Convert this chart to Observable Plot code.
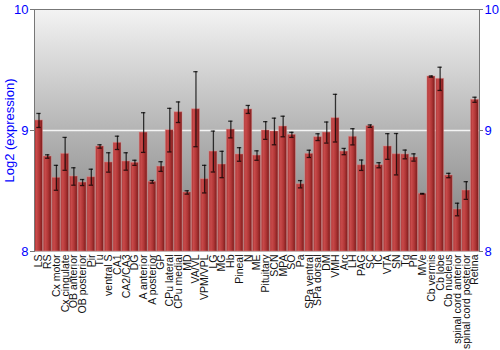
<!DOCTYPE html>
<html>
<head>
<meta charset="utf-8">
<script src="https://cdn.jsdelivr.net/npm/d3@7"></script>
<script src="https://cdn.jsdelivr.net/npm/@observablehq/plot@0.6"></script>
<style>
  html, body { margin: 0; padding: 0; background: #fff; }
  #chart { width: 500px; height: 350px; }
</style>
</head>
<body>
<div id="chart"></div>
<script>
const regions = ["LS","RS","Cx motor","Cx cingulate","OB anterior","OB posterior","Pir","Tu","ventral S","CA1","CA2/CA3","DG","A anterior","A posterior","GP","CPu lateral","CPu medial","MD","VA/VL","VPM/VPL","LG","MG","Hb","Pineal","N","ME","Pituitary","SCN","MPA","SO","Pa","SPa ventral","SPa dorsal","DM","VMH","Arc","LH","PAG","SC","IC","VTA","SN","Tg","Pn","MVe","Cb vermis","Cb lobe","Cb nucleus","spinal cord anterior","spinal cord posterior","Retina"];
const expression = [9.083,8.785,8.609,8.807,8.620,8.570,8.614,8.868,8.736,8.898,8.744,8.733,8.983,8.576,8.702,9.003,9.151,8.488,9.176,8.598,8.826,8.719,9.008,8.802,9.174,8.793,9.000,8.992,9.033,8.964,8.556,8.807,8.945,8.983,9.102,8.826,8.948,8.713,9.036,8.713,8.868,8.804,8.802,8.777,8.477,9.446,9.427,8.628,8.347,8.504,9.254];
const errors = [0.058,0.014,0.103,0.136,0.072,0.025,0.066,0.014,0.080,0.055,0.072,0.021,0.164,0.011,0.040,0.180,0.085,0.014,0.310,0.114,0.169,0.109,0.069,0.056,0.033,0.039,0.073,0.110,0.085,0.021,0.030,0.030,0.028,0.087,0.197,0.026,0.067,0.043,0.010,0.021,0.106,0.171,0.036,0.030,0.003,0.005,0.096,0.018,0.052,0.073,0.021];
const yTicks = [8, 9, 10];
const yLabel = "Log2 (expression)";

const data = regions.map((r, i) => ({region: r, value: expression[i], lo: expression[i] - errors[i], hi: expression[i] + errors[i]}));

const plot = Plot.plot({
  width: 500,
  height: 350,
  marginLeft: 34,
  marginRight: 21,
  marginTop: 9,
  marginBottom: 99,
  style: {fontFamily: "Liberation Sans, Arial, sans-serif", background: "white"},
  x: {type: "band", domain: regions, paddingInner: 0.09, paddingOuter: 0.06},
  y: {domain: [8, 10]},
  marks: [
    Plot.frame({fill: "url(#bgGrad)", stroke: null}),
    Plot.ruleY([9], {stroke: "#f4f4f4", strokeWidth: 1.5}),
    Plot.barY(data, {x: "region", y1: 8, y2: "value", fill: "url(#barGrad)", stroke: "#e89090", strokeOpacity: 0.45, strokeWidth: 1}),
    Plot.ruleX(data, {x: "region", y1: "lo", y2: "hi", stroke: "#000", strokeOpacity: 0.75, strokeWidth: 1.3}),
    Plot.tickY(data, {x: "region", y: "lo", stroke: "#000", strokeOpacity: 0.75, strokeWidth: 1.3, insetLeft: 1.8, insetRight: 1.8}),
    Plot.tickY(data, {x: "region", y: "hi", stroke: "#000", strokeOpacity: 0.75, strokeWidth: 1.3, insetLeft: 1.8, insetRight: 1.8}),
    Plot.frame({anchor: "top", stroke: "#777"}),
    Plot.frame({anchor: "left", stroke: "#777"}),
    Plot.frame({anchor: "right", stroke: "#777"}),
    Plot.axisY({anchor: "left", ticks: yTicks, tickSize: 4, tickPadding: 2, fontSize: 13, color: "#0000ff", stroke: "#777", label: yLabel, labelAnchor: "center", labelArrow: "none", labelOffset: 30, tickFormat: d => String(d)}),
    Plot.axisY({anchor: "right", ticks: yTicks, tickSize: 3, tickPadding: 2, fontSize: 13, color: "#0000ff", stroke: "#777", label: null, tickFormat: d => String(d)}),
    Plot.axisX({anchor: "bottom", tickRotate: -90, tickSize: 0, tickPadding: 3, fontSize: 10.5, color: "#111", label: null})
  ]
});

const svg = d3.select(plot);
const defs = svg.insert("defs", ":first-child");
const bg = defs.append("linearGradient").attr("id", "bgGrad").attr("x1", 0).attr("y1", 0).attr("x2", 0).attr("y2", 1);
bg.append("stop").attr("offset", "0%").attr("stop-color", "#f3f3f3");
bg.append("stop").attr("offset", "50%").attr("stop-color", "#b4b4b4");
bg.append("stop").attr("offset", "100%").attr("stop-color", "#7c7c7c");
const bar = defs.append("linearGradient").attr("id", "barGrad").attr("x1", 0).attr("y1", 0).attr("x2", 1).attr("y2", 0);
bar.append("stop").attr("offset", "0%").attr("stop-color", "#a83232");
bar.append("stop").attr("offset", "25%").attr("stop-color", "#c84a4a");
bar.append("stop").attr("offset", "60%").attr("stop-color", "#b03636");
bar.append("stop").attr("offset", "100%").attr("stop-color", "#7a1a1a");

document.getElementById("chart").appendChild(plot);
</script>
</body>
</html>
